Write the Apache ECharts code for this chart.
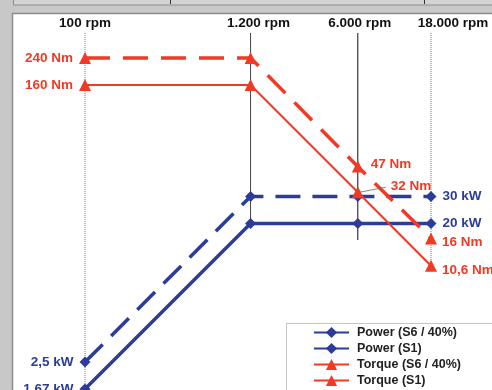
<!DOCTYPE html>
<html><head><meta charset="utf-8">
<script src="https://cdn.jsdelivr.net/npm/echarts@6/dist/echarts.min.js"></script>
<style>html,body{margin:0;padding:0;background:#c8c8c8}#c{width:492px;height:390px}</style>
</head><body><div id="c"></div>
<script>
// ---- data ----
var rpm = [100, 1200, 6000, 18000];
var rpmLabels = ['100 rpm', '1.200 rpm', '6.000 rpm', '18.000 rpm'];
var powerS6 = [2.5, 30, 30, 30];
var powerS1 = [1.67, 20, 20, 20];
var torqueS6 = [240, 240, 47, 16];
var torqueS1 = [160, 160, 32, 10.6];
var powerS6Labels = ['2,5 kW', '', '', '30 kW'];
var powerS1Labels = ['1,67 kW', '', '', '20 kW'];
var torqueS6Labels = ['240 Nm', '', '47 Nm', '16 Nm'];
var torqueS1Labels = ['160 Nm', '', '32 Nm', '10,6 Nm'];
var seriesNames = ['Power (S6 / 40%)', 'Power (S1)', 'Torque (S6 / 40%)', 'Torque (S1)'];
var guideTop = 349;
var guideBottom = [1, 20, 15.6, 10.6];

var BLUE = '#2c3d98', RED = '#f03a24';
var FONT = '"Liberation Sans", Arial, sans-serif';

var chart = echarts.init(document.getElementById('c'));

function mkData(vals, labels, color, cfg) {
  return vals.map(function (v, i) {
    var item = { value: [rpm[i], v] };
    if (labels[i]) {
      var c = cfg[i] || {};
      item.label = Object.assign({
        show: true, formatter: labels[i], color: color,
        fontFamily: FONT, fontWeight: 'bold', fontSize: 13.5
      }, c);
    }
    return item;
  });
}
var L = { position: 'left', distance: 6 };
var R = { position: 'right', distance: 6 };

var series = [
  { name: seriesNames[0], type: 'line', clip: false, symbol: 'diamond', symbolSize: 11,
    color: BLUE, lineStyle: { width: 3.5, type: [25, 12] }, z: 3,
    data: mkData(powerS6, powerS6Labels, BLUE, { 0: L, 3: R }) },
  { name: seriesNames[1], type: 'line', clip: false, symbol: 'diamond', symbolSize: 11,
    color: BLUE, lineStyle: { width: 3.5 }, z: 3,
    data: mkData(powerS1, powerS1Labels, BLUE, { 0: L, 3: R }) },
  { name: seriesNames[2], type: 'line', clip: false, symbol: 'triangle', symbolSize: 12,
    color: RED, lineStyle: { width: 3.5, type: [25, 13] }, z: 4,
    data: mkData(torqueS6, torqueS6Labels, RED, { 0: L, 2: { position: 'right', distance: 7, offset: [0, -2] }, 3: { position: 'right', distance: 5, offset: [0, 4] } }) },
  { name: seriesNames[3], type: 'line', clip: false, symbol: 'triangle', symbolSize: 12,
    color: RED, lineStyle: { width: 2 }, z: 4,
    data: mkData(torqueS1, torqueS1Labels, RED, { 0: L, 2: { position: 'right', distance: 12, offset: [15, -6] }, 3: { position: 'right', distance: 5, offset: [0, 4] } }) }
];

var guideStyles = [
  { color: '#7a7a7a', width: 1, type: [1, 1] },
  { color: '#444', width: 1, type: 'solid' },
  { color: '#111', width: 1, type: 'solid' },
  { color: '#7a7a7a', width: 1, type: [1, 1] }
];
var labelOffsets = [[0, 0], [8, 0], [2, 0], [22, 0]];
rpm.forEach(function (r, i) {
  series.push({
    type: 'line', silent: true, clip: false, symbol: 'circle', symbolSize: 0, z: 1,
    lineStyle: guideStyles[i], color: guideStyles[i].color,
    data: [
      { value: [r, guideTop], label: { show: true, position: 'top', distance: 3, offset: labelOffsets[i],
        formatter: rpmLabels[i], color: '#111', fontFamily: FONT, fontWeight: 'bold', fontSize: 13.5 } },
      { value: [r, guideBottom[i]] }
    ]
  });
});

chart.setOption({
  backgroundColor: '#c8c8c8',
  animation: false,
  grid: { left: 85, width: 346, top: 23.9, bottom: 0 },
  xAxis: { type: 'log', min: 100, max: 18000, show: false },
  yAxis: { type: 'log', min: 1.644, max: 400, show: false },
  legend: {
    data: seriesNames, orient: 'vertical', left: 313, top: 326, width: 180, height: 100, padding: 0,
    itemWidth: 35, itemHeight: 14, itemGap: 3,
    lineStyle: { type: 'solid' },
    textStyle: { fontFamily: FONT, fontWeight: 'bold', fontSize: 12.5, color: '#222', padding: [0, 0, 0, 3] }
  },
  series: series
});

var p = chart.convertToPixel({ gridIndex: 0 }, [rpm[2], torqueS1[2]]);
chart.setOption({
  graphic: [
    { type: 'rect', z: -10, silent: true, shape: { x: 13.5, y: -2, width: 490, height: 7 }, style: { fill: '#d3d3d3', stroke: '#8c8c8c', lineWidth: 1 } },
    { type: 'line', z: -9, silent: true, shape: { x1: 170.5, y1: 0, x2: 170.5, y2: 4 }, style: { stroke: '#333', lineWidth: 1 } },
    { type: 'line', z: -9, silent: true, shape: { x1: 424.5, y1: 0, x2: 424.5, y2: 4 }, style: { stroke: '#333', lineWidth: 1 } },
    { type: 'rect', z: -10, silent: true, shape: { x: 12.5, y: 13.5, width: 490, height: 390 }, style: { fill: '#ffffff', stroke: '#8c8c8c', lineWidth: 1.5 } },
    { type: 'rect', z: -9, silent: true, shape: { x: 286.5, y: 323.5, width: 220, height: 80 }, style: { fill: '#ffffff', stroke: '#8a8a8a', lineWidth: 1, lineDash: [1, 1] } },
    { type: 'line', z: 10, silent: true, shape: { x1: p[0] + 2, y1: p[1], x2: p[0] + 28, y2: p[1] - 5 }, style: { stroke: '#666', lineWidth: 0.8 } }
  ]
});
</script></body></html>
